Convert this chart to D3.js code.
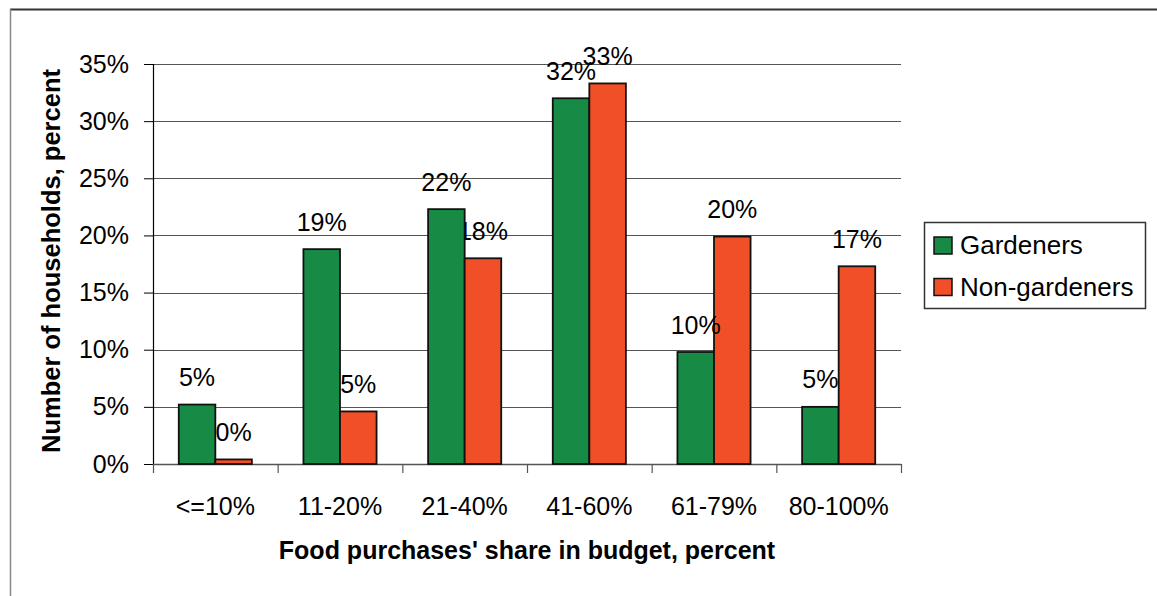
<!DOCTYPE html>
<html>
<head>
<meta charset="utf-8">
<script src="https://cdn.jsdelivr.net/npm/d3@7"></script>
<style>
  html, body { margin: 0; padding: 0; background: #fff; }
  svg { display: block; font-family: Arial, "Liberation Sans", sans-serif; }
</style>
</head>
<body>
<svg id="chart" width="1157" height="596"></svg>
<script>
// Share of food purchases in household budget, by gardening status
const categories = ["<=10%", "11-20%", "21-40%", "41-60%", "61-79%", "80-100%"];
const seriesNames = ["Gardeners", "Non-gardeners"];
const gardeners = [5.2, 18.8, 22.3, 32.0, 9.8, 5.0];
const nonGardeners = [0.4, 4.6, 18.0, 33.3, 19.9, 17.3];
const yTicks = [0, 5, 10, 15, 20, 25, 30, 35];
const colors = ["#178B45", "#F04F27"];

const svg = d3.select("#chart");
const plotLeft = 153, plotRight = 901, plotTop = 64, plotBottom = 464;
const fontSize = 25;

const x = d3.scaleBand().domain(categories).range([plotLeft, plotRight]).paddingInner(0).paddingOuter(0);
const inner = d3.scaleBand().domain(seriesNames).range([0, x.bandwidth()]).paddingInner(0).paddingOuter(0.705);
const y = d3.scaleLinear().domain([0, 35]).range([plotBottom, plotTop]);

// frame lines
svg.append("line").attr("x1", 10).attr("x2", 1157).attr("y1", 9.5).attr("y2", 9.5)
  .attr("stroke", "#333").attr("stroke-width", 2);
svg.append("line").attr("x1", 10.5).attr("x2", 10.5).attr("y1", 9).attr("y2", 596)
  .attr("stroke", "#888").attr("stroke-width", 1.5);

// y axis ticks and labels
const yAxis = d3.axisLeft(y).tickValues(yTicks).tickFormat(d => d + "%")
  .tickSize(9).tickPadding(15);
const gy = svg.append("g").attr("transform", `translate(${plotLeft},0)`).call(yAxis);
gy.select(".domain").remove();
gy.selectAll(".tick line").attr("stroke", "#000");
gy.selectAll(".tick text").attr("font-size", fontSize).attr("fill", "#000")
  .attr("font-family", "Arial, 'Liberation Sans', sans-serif");

// horizontal gridlines
svg.append("g").selectAll("line").data(yTicks.filter(d => d > 0)).join("line")
  .attr("x1", plotLeft).attr("x2", plotRight)
  .attr("y1", d => Math.round(y(d)) + 0.5).attr("y2", d => Math.round(y(d)) + 0.5)
  .attr("stroke", "#555").attr("stroke-width", 1.2);

// vertical axis line
svg.append("line").attr("x1", plotLeft + 0.5).attr("x2", plotLeft + 0.5)
  .attr("y1", plotTop).attr("y2", plotBottom)
  .attr("stroke", "#000").attr("stroke-width", 1.2);

// category labels
const xAxis = d3.axisBottom(x).tickSize(0).tickPadding(33);
const gx = svg.append("g").attr("transform", `translate(0,${plotBottom})`).call(xAxis);
gx.select(".domain").remove();
gx.selectAll(".tick text").attr("font-size", fontSize).attr("fill", "#000")
  .attr("font-family", "Arial, 'Liberation Sans', sans-serif");

svg.append("line").attr("x1", plotLeft).attr("x2", plotRight)
  .attr("y1", plotBottom + 0.5).attr("y2", plotBottom + 0.5)
  .attr("stroke", "#555").attr("stroke-width", 1.5);
// category boundary ticks
const bounds = categories.map(c => x(c)).concat([plotRight]);
svg.append("g").selectAll("line").data(bounds).join("line")
  .attr("x1", d => d + 0.5).attr("x2", d => d + 0.5)
  .attr("y1", plotBottom).attr("y2", plotBottom + 9)
  .attr("stroke", "#555").attr("stroke-width", 1.2);

const rows = categories.map((c, i) => ({ cat: c, vals: [gardeners[i], nonGardeners[i]] }));
const fmt = v => Math.round(v) + "%";

function labels(si) {
  svg.append("g").selectAll("text").data(rows).join("text")
    .attr("x", d => x(d.cat) + inner(seriesNames[si]) + inner.bandwidth() / 2)
    .attr("y", d => y(d.vals[si]) - 18.5)
    .attr("text-anchor", "middle").attr("font-size", fontSize).attr("fill", "#000")
    .text(d => fmt(d.vals[si]));
}

// second-series labels sit beneath the bars, first-series labels on top
labels(1);

const groups = svg.append("g").selectAll("g").data(rows).join("g")
  .attr("transform", d => `translate(${x(d.cat)},0)`);
groups.selectAll("rect").data(d => d.vals.map((v, i) => ({ v, i }))).join("rect")
  .attr("x", d => inner(seriesNames[d.i]))
  .attr("width", inner.bandwidth())
  .attr("y", d => y(d.v))
  .attr("height", d => plotBottom - y(d.v))
  .attr("fill", d => colors[d.i])
  .attr("stroke", "#111").attr("stroke-width", 1.8);

labels(0);

// axis titles
svg.append("text")
  .attr("transform", `translate(60,${(plotTop + plotBottom) / 2 - 3}) rotate(-90)`)
  .attr("text-anchor", "middle").attr("font-size", 25.5).attr("font-weight", "bold")
  .text("Number of households, percent");
svg.append("text")
  .attr("x", (plotLeft + plotRight) / 2).attr("y", 559)
  .attr("text-anchor", "middle").attr("font-size", 25).attr("font-weight", "bold")
  .text("Food purchases' share in budget, percent");

// legend
const lg = svg.append("g");
lg.append("rect").attr("x", 924.5).attr("y", 222.5).attr("width", 221).attr("height", 86)
  .attr("fill", "#fff").attr("stroke", "#333").attr("stroke-width", 1.5);
const items = lg.selectAll("g").data(seriesNames).join("g")
  .attr("transform", (d, i) => `translate(934,${237 + i * 41.5})`);
items.append("rect").attr("width", 18).attr("height", 17)
  .attr("fill", (d, i) => colors[i]).attr("stroke", "#111").attr("stroke-width", 1.5);
items.append("text").attr("x", 26).attr("y", 17).attr("font-size", 26).text(d => d);
</script>
</body>
</html>
